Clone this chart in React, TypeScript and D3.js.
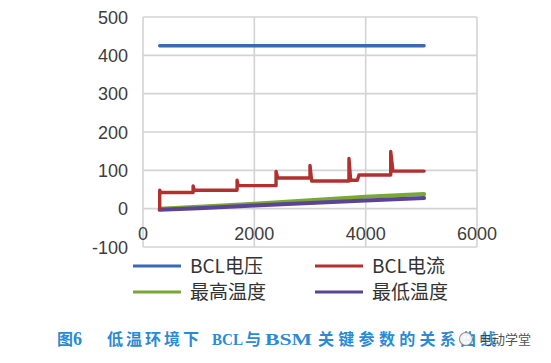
import * as d3 from 'd3';

// time axis (s) and series
const voltX = [300, 5050];
const voltY = [425, 425];

const currX = [300, 300, 320, 900, 900, 920, 1690, 1690, 1710, 2390, 2390, 2420, 3000, 3000, 3030, 3700, 3700, 3730, 3850, 3880, 4450, 4450, 4490, 5050];
const currY = [0, 48, 42, 42, 59, 48, 48, 74, 60, 60, 97, 80, 80, 113, 72, 72, 131, 74, 74, 88, 88, 149, 98, 98];

const maxTX = [300, 1000, 2000, 3000, 4000, 5050];
const maxTY = [0, 5, 13, 22, 31, 38];

const minTX = [300, 1000, 2000, 3000, 4000, 5050];
const minTY = [-3, 1, 8, 15, 21, 28];

const yTicks = [-100, 0, 100, 200, 300, 400, 500];
const xTicks = [0, 2000, 4000, 6000];

const legendNames = ['BCL电压', 'BCL电流', '最高温度', '最低温度'];
const colors = ['#3b69b3', '#b2302f', '#79a836', '#5b4398'];

const tickFont = '"Liberation Sans", Arial, sans-serif';
const cjkFont = '"Noto Sans CJK SC", sans-serif';
const serif = '"Liberation Serif", serif';

export default function App() {
  const x = d3.scaleLinear().domain([0, 6000]).range([143, 477]);
  const y = d3.scaleLinear().domain([-100, 500]).range([247, 17]);

  const line = d3
    .line<[number, number]>()
    .x((d) => x(d[0]))
    .y((d) => y(d[1]));

  const zip = (xs: number[], ys: number[]) => xs.map((v, i) => [v, ys[i]] as [number, number]);
  const series = [
    zip(voltX, voltY),
    zip(currX, currY),
    zip(maxTX, maxTY),
    zip(minTX, minTY),
  ];

  const legendPos = [
    [133, 266],
    [315, 266],
    [133, 292],
    [315, 292],
  ];

  const capColor = '#2b8ad3';

  return (
    <svg
      width={551}
      height={363}
      style={{ position: 'absolute', left: 0, top: 0, background: '#fff' }}
    >
      {/* grid */}
      <g stroke='#d3d3d3' strokeWidth={1.6} fill='none'>
        {yTicks.map((t) => (
          <line key={'gy' + t} x1={x(0)} x2={x(6000)} y1={y(t)} y2={y(t)} />
        ))}
        {xTicks.map((t) => (
          <line key={'gx' + t} x1={x(t)} x2={x(t)} y1={y(500)} y2={y(-100)} />
        ))}
      </g>

      {/* y labels */}
      <g fontFamily={tickFont} fontSize={18} fill='#3d3d3d' textAnchor='end'>
        {yTicks.map((t) => (
          <text key={'ly' + t} x={128} y={y(t) + 6.5}>
            {t}
          </text>
        ))}
      </g>
      {/* x labels */}
      <g fontFamily={tickFont} fontSize={18} fill='#3d3d3d' textAnchor='middle'>
        {xTicks.map((t) => (
          <text key={'lx' + t} x={x(t)} y={240}>
            {t}
          </text>
        ))}
      </g>

      {/* series */}
      <g fill='none' strokeLinejoin='round' strokeLinecap='round'>
        {[2, 3, 0, 1].map((i) => (
          <path
            key={'s' + i}
            d={line(series[i]) || ''}
            stroke={colors[i]}
            strokeWidth={i >= 2 ? 4 : 3.4}
          />
        ))}
      </g>

      {/* legend */}
      <g fontFamily={cjkFont} fontSize={19} fill='#333'>
        {legendNames.map((n, i) => (
          <g key={n} transform={`translate(${legendPos[i][0]},${legendPos[i][1]})`}>
            <line x1={0} x2={48} y1={0} y2={0} stroke={colors[i]} strokeWidth={3.2} />
            <text x={57} y={6.5}>
              {n}
            </text>
          </g>
        ))}
      </g>

      {/* caption */}
      <g fontFamily={cjkFont} fontSize={16} fontWeight='bold' fill={capColor}>
        <text x={57} y={345}>
          图
          <tspan fontFamily={serif} fontSize={18}>6</tspan>
        </text>
        <text x={107} y={345} letterSpacing={3}>
          低温环境下
        </text>
        <text x={212} y={345} fontFamily={serif} fontSize={17} textLength={31} lengthAdjust='spacingAndGlyphs'>
          BCL
        </text>
        <text x={245} y={345}>
          与
        </text>
        <text x={265} y={345} fontFamily={serif} fontSize={17} textLength={47} lengthAdjust='spacingAndGlyphs'>
          BSM
        </text>
        <text x={318} y={345} letterSpacing={4.3}>
          关键参数的关系曲线
        </text>
      </g>
      {/* watermark */}
      <circle cx={466} cy={339} r={6.5} fill='#fff' stroke='#888' strokeWidth={1.2} opacity={0.9} />
      <text
        x={479}
        y={344}
        fontFamily={cjkFont}
        fontSize={13}
        fill='#333'
        stroke='#fff'
        strokeWidth={0.6}
        paintOrder='stroke'
        opacity={0.85}
      >
        电动学堂
      </text>
    </svg>
  );
}
